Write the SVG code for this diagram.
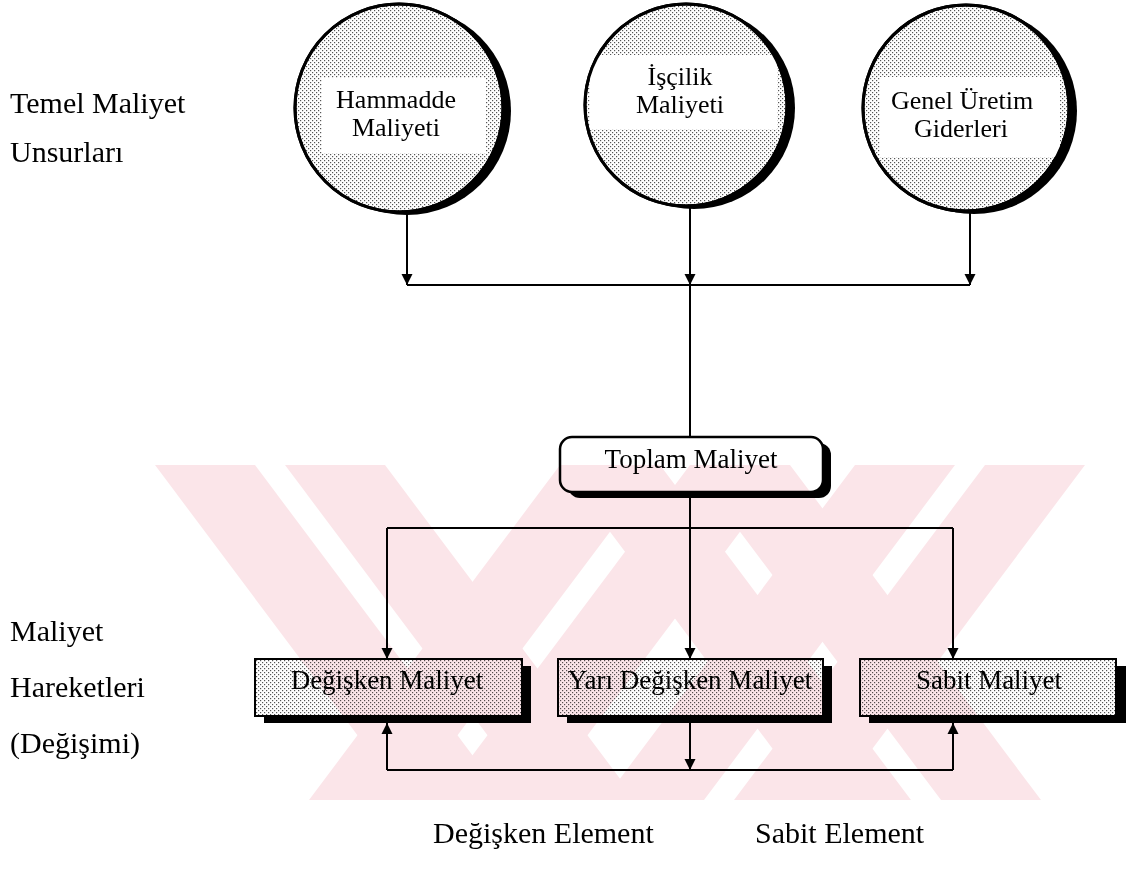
<svg xmlns="http://www.w3.org/2000/svg" width="1126" height="877" viewBox="0 0 1126 877">
  <defs>
    <!-- dotted screen used for the shaded fills -->
    <pattern id="stipple" width="4" height="4" patternUnits="userSpaceOnUse">
      <rect width="4" height="4" fill="#fff"/>
      <rect x="0" y="0" width="1.2" height="1.2" fill="#555"/>
      <rect x="2" y="2" width="1.2" height="1.2" fill="#555"/>
    </pattern>
    <marker id="arrow" viewBox="0 0 10 10" refX="10" refY="5" markerWidth="11" markerHeight="12" markerUnits="userSpaceOnUse" orient="auto">
      <path d="M0,0 L10,5 L0,10 z" fill="#000"/>
    </marker>
    <clipPath id="clip-c1"><circle cx="399" cy="108" r="104"/></clipPath>
    <clipPath id="clip-c2"><circle cx="686" cy="105" r="101"/></clipPath>
    <clipPath id="clip-c3"><circle cx="966" cy="108" r="103"/></clipPath>
    <clipPath id="clip-wm"><rect x="155" y="465" width="935" height="335"/></clipPath>
  </defs>
  <style>
    .lbl { font-family: "Liberation Serif", "Times New Roman", serif; font-size: 30px; fill: #000; }
    .node { font-family: "Liberation Serif", "Times New Roman", serif; font-size: 26px; fill: #000; text-anchor: middle; }
    .box-lbl { font-size: 27px; }
    .conn { stroke: #000; stroke-width: 2; fill: none; }
    .ring { fill: url(#stipple); stroke: #000; stroke-width: 3; }
    .shade { fill: #000; }
    .band { fill: #fff; }
    .box { fill: url(#stipple); stroke: #000; stroke-width: 2; }
    .plain { fill: #fff; stroke: #000; stroke-width: 2.5; }
    .wm { fill: #fbe5e9; }
  </style>

  <rect width="1126" height="877" fill="#fff"/>

  <!-- row titles -->
  <g id="titles">
    <text class="lbl" x="10" y="113">Temel Maliyet</text>
    <text class="lbl" x="10" y="162">Unsurları</text>
    <text class="lbl" x="10" y="641">Maliyet</text>
    <text class="lbl" x="10" y="697">Hareketleri</text>
    <text class="lbl" x="10" y="753">(Değişimi)</text>
    <text class="lbl" x="433" y="843">Değişken Element</text>
    <text class="lbl" x="755" y="843">Sabit Element</text>
  </g>

  <!-- cost elements -->
  <g id="hammadde">
    <circle class="shade" cx="407" cy="111" r="104"/>
    <circle class="ring" cx="399" cy="108" r="104"/>
    <rect class="band" x="322" y="78" width="164" height="75" clip-path="url(#clip-c1)"/>
    <circle cx="399" cy="108" r="104" fill="none" stroke="#000" stroke-width="3"/>
    <text class="node" x="396" y="108">Hammadde</text>
    <text class="node" x="396" y="136">Maliyeti</text>
  </g>
  <g id="iscilik">
    <circle class="shade" cx="694" cy="108" r="101"/>
    <circle class="ring" cx="686" cy="105" r="101"/>
    <rect class="band" x="590" y="55" width="187" height="74" clip-path="url(#clip-c2)"/>
    <circle cx="686" cy="105" r="101" fill="none" stroke="#000" stroke-width="3"/>
    <text class="node" x="680" y="85">İşçilik</text>
    <text class="node" x="680" y="113">Maliyeti</text>
  </g>
  <g id="genel-uretim">
    <circle class="shade" cx="974" cy="111" r="103"/>
    <circle class="ring" cx="966" cy="108" r="103"/>
    <rect class="band" x="880" y="77" width="180" height="80" clip-path="url(#clip-c3)"/>
    <circle cx="966" cy="108" r="103" fill="none" stroke="#000" stroke-width="3"/>
    <text class="node" x="962" y="109">Genel Üretim</text>
    <text class="node" x="961" y="137">Giderleri</text>
  </g>

  <!-- total -->
  <g id="toplam">
    <rect class="shade" x="568" y="443" width="263" height="55" rx="12"/>
    <rect class="plain" x="560" y="437" width="263" height="55" rx="12"/>
    <text class="node box-lbl" x="691" y="468">Toplam Maliyet</text>
  </g>

  <!-- cost behaviour -->
  <g id="degisken">
    <rect class="shade" x="264" y="666" width="267" height="57"/>
    <rect class="box" x="255" y="659" width="267" height="57"/>
    <text class="node box-lbl" x="387" y="689">Değişken Maliyet</text>
  </g>
  <g id="yari-degisken">
    <rect class="shade" x="567" y="666" width="265" height="57"/>
    <rect class="box" x="558" y="659" width="265" height="57"/>
    <text class="node box-lbl" x="690" y="689">Yarı Değişken Maliyet</text>
  </g>
  <g id="sabit">
    <rect class="shade" x="869" y="666" width="257" height="57"/>
    <rect class="box" x="860" y="659" width="256" height="57"/>
    <text class="node box-lbl" x="989" y="689">Sabit Maliyet</text>
  </g>

  <g id="connectors">
    <path class="conn" d="M407 212 V285" marker-end="url(#arrow)"/>
    <path class="conn" d="M690 207 V285" marker-end="url(#arrow)"/>
    <path class="conn" d="M970 212 V285" marker-end="url(#arrow)"/>
    <path class="conn" d="M407 285 H970 M690 285 V437"/>
    <path class="conn" d="M690 498 V528 M387 528 H953"/>
    <path class="conn" d="M387 528 V659" marker-end="url(#arrow)"/>
    <path class="conn" d="M690 528 V659" marker-end="url(#arrow)"/>
    <path class="conn" d="M953 528 V659" marker-end="url(#arrow)"/>
    <path class="conn" d="M387 770 V723" marker-end="url(#arrow)"/>
    <path class="conn" d="M953 770 V723" marker-end="url(#arrow)"/>
    <path class="conn" d="M690 723 V770" marker-end="url(#arrow)"/>
    <path class="conn" d="M387 770 H953"/>
  </g>

  <!-- background stamp, tinted over the page: four double-striped arms -->
  <g id="stamp" clip-path="url(#clip-wm)" style="mix-blend-mode:multiply">
    <polygon class="wm" points="155,465 255,465 506,800 406,800"/>
    <polygon class="wm" points="285,465 385,465 636,800 536,800"/>
    <polygon class="wm" points="560,465 660,465 409,800 309,800"/>
    <polygon class="wm" points="690,465 790,465 539,800 439,800"/>
    <polygon class="wm" points="560,465 660,465 911,800 811,800"/>
    <polygon class="wm" points="690,465 790,465 1041,800 941,800"/>
    <polygon class="wm" points="855,465 955,465 704,800 604,800"/>
    <polygon class="wm" points="985,465 1085,465 834,800 734,800"/>
  </g>
</svg>
